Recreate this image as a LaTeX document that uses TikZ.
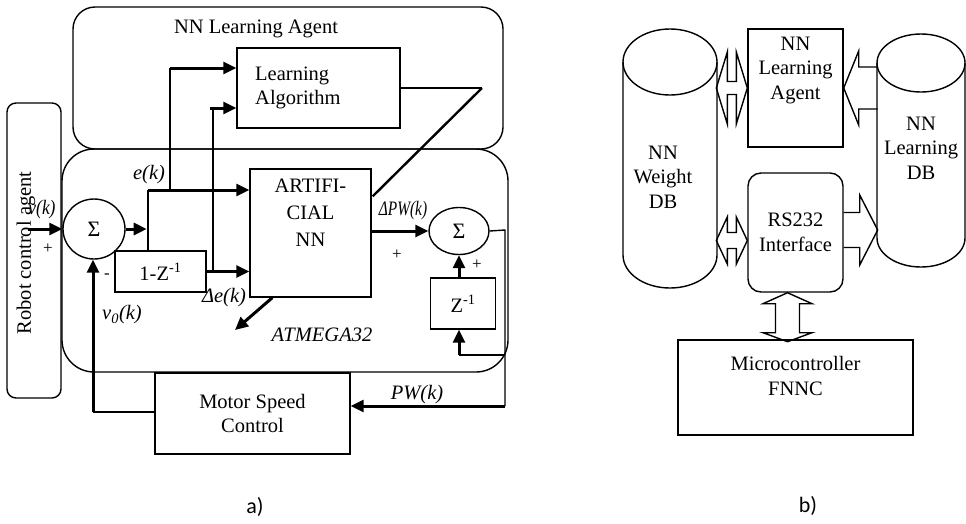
\documentclass[tikz,border=0pt]{standalone}
\usepackage{fontspec}
\setmainfont{Liberation Serif}
\newfontfamily\capfont{Carlito}
\usetikzlibrary{arrows.meta,calc,shapes.geometric}
\begin{document}
\begin{tikzpicture}[x=1pt,y=-1pt,
  every node/.style={font=\fontsize{20.5}{24.5}\selectfont, inner sep=0pt},
  box/.style={draw, line width=1.4pt, align=center},
  txt/.style={align=center},
  lbl/.style={font=\fontsize{20.5}{24.5}\selectfont\itshape},
  sgn/.style={font=\fontsize{17}{20}\selectfont},
  sumnode/.style={draw, line width=1.4pt, ellipse, font=\fontsize{22}{26}\selectfont},
  thinw/.style={line width=1.4pt},
  thickarr/.style={line width=3pt, -{Triangle[length=13pt,width=12pt]}},
  blk/.style={line width=1.4pt, line join=miter},
]
\useasboundingbox (0,0) rectangle (966,523);

% ---------------- a) control loop ----------------
% agent frames
\node[box, rounded corners=22pt, minimum width=430pt, minimum height=142pt] (lag) at (288,78) {};
\node[box, rounded corners=32pt, minimum width=446pt, minimum height=223pt] (atm) at (285,260.5) {};
\node[box, rounded corners=9pt, minimum width=54pt, minimum height=295pt] (rca) at (34,250.5) {};
\node[txt, rotate=90] (rcat) at (26,253) {Robot control agent};
\node[txt] (lagt) at (256,29) {NN Learning Agent};

% blocks
\node[sumnode, minimum width=62pt, minimum height=60pt] (s1) at (94,229) {Σ};
\node[box, minimum width=91pt, minimum height=41pt] (z1) at (160.5,271.5) {1-Z\textsuperscript{-1}};
\node[box, minimum width=121pt, minimum height=128pt] (ann) at (310.5,233) {};
\node[txt, font=\fontsize{20.5}{27}\selectfont] (annt) at (310.5,213) {ARTIFI-\\CIAL\\NN};
\node[box, minimum width=163pt, minimum height=80pt] (la) at (318.5,88) {};
\node[align=left, anchor=west] (lat) at (255,88) {Learning\\Algorithm};
\node[sumnode, minimum width=60pt, minimum height=47pt] (s2) at (459,231) {Σ};
\node[box, minimum width=65pt, minimum height=51pt] (z2) at (463,303.5) {Z\textsuperscript{-1}};
\node[box, minimum width=195pt, minimum height=81pt] (msc) at (252.5,413.5) {Motor Speed\\Control};

% wiring
\coordinate (vin) at (28,229);
\draw[thickarr] (vin) -- (s1.west);
\draw[thickarr] (s1.east) -- ++(21,0) coordinate (so);

\coordinate (ej) at (148,190);
\draw[thinw] (z1.north -| ej) -- (ej);
\draw[thickarr] (ej) -- (ann.west |- ej);
\coordinate (eb) at (170,190);
\coordinate (et) at (170,68);
\draw[thinw] (eb) -- (et);
\draw[thickarr] (et) -- (la.west |- et);

\draw[thickarr] (z1.east) -- (ann.west |- z1.east);
\coordinate (db) at (213,271.5);
\coordinate (dt) at (213,108);
\draw[thinw] (db) -- (dt);
\draw[thickarr] ($(dt)+(-3,0)$) -- (la.west |- dt);

\coordinate (fb) at (93,412);
\draw[thinw] (msc.west |- fb) -- (fb);
\draw[thickarr] (fb) -- (s1.south -| fb);

\draw[thickarr] (ann.east |- s2.west) -- (s2.west);
\coordinate (lr) at (482,88);
\draw[thinw] (la.east) -- (lr);
\draw[line width=2.4pt] (lr) -- ($(ann.north east)+(1,28)$);

\coordinate (pc) at (505,230);
\coordinate (pb) at (505,406);
\draw[thinw] (s2.east) -- (pc) -- (pb);
\draw[thickarr] (pb) -- (msc.east |- pb);
\coordinate (zl) at (459,355);
\draw[thinw] (pb |- zl) -- (zl);
\draw[thickarr] (zl) -- (z2.south -| zl);
\draw[thickarr] (z2.north -| s2.south) -- (s2.south);

\draw[thickarr] ($(ann.south west)+(23,0)$) -- (235,330);

% signal labels
\node[lbl, xscale=0.85] (lv) at (42,210) {v(k)};
\node[sgn] (lp1) at (48,249) {+};
\node[lbl] (le) at (149,175) {e(k)};
\node[sgn] (lm) at (107,276) {-};
\node[lbl] (lde) at (224,298) {Δe(k)};
\node[lbl] (lv0) at (122,315) {v\textsubscript{0}(k)};
\node[lbl] (latm) at (322,335) {ATMEGA32};
\node[lbl, xscale=0.75] (ldpw) at (403,211) {ΔPW(k)};
\node[sgn] (lp2) at (397,255) {+};
\node[sgn] (lp3) at (477,265) {+};
\node[lbl] (lpw) at (417,395) {PW(k)};
\node[font=\capfont\fontsize{22}{26}\selectfont] (capa) at (255,507) {a)};

% ---------------- b) system structure ----------------
% NN weight data base
\draw[thinw] (623,62) -- (623,255) arc[start angle=180, end angle=0, x radius=47, y radius=33] -- (717,62);
\draw[thinw] (670,62) ellipse[x radius=47, y radius=33];
\node[txt] (wdbt) at (663,177) {NN\\Weight\\DB};
% NN learning data base
\draw[thinw] (877,63) -- (877,238) arc[start angle=180, end angle=0, x radius=44, y radius=29] -- (965,63);
\draw[thinw] (921,63) ellipse[x radius=44, y radius=29];
\node[txt] (ldbt) at (921,148) {NN\\Learning\\DB};

\node[box, minimum width=95pt, minimum height=118pt] (lagb) at (795.5,88) {};
\node[txt] (lagbt) at (795.5,70) {NN\\Learning\\Agent};
\node[box, rounded corners=13pt, minimum width=95pt, minimum height=119pt] (rs) at (795.5,232.5) {RS232\\Interface};
\node[box, minimum width=235pt, minimum height=95pt] (mc) at (795.5,387.5) {};
\node[txt] (mct) at (795.5,376) {Microcontroller\\FNNC};

% block arrows
\draw[blk, shift={(lagb.west)}] (-31,0) -- (-20,-36) -- (-20,-6.5) -- (-11,-6.5) -- (-11,-36) -- (0,0)
  -- (-11,36) -- (-11,6.5) -- (-20,6.5) -- (-20,36) -- cycle;
\draw[blk, shift={($(rs.west)+(0,8)$)}] (-31,0) -- (-20,-23.5) -- (-20,-8) -- (-11,-8) -- (-11,-23.5) -- (0,0)
  -- (-11,23.5) -- (-11,8) -- (-20,8) -- (-20,23.5) -- cycle;
\draw[blk, shift={(lagb.east)}] (34,-21) -- (15,-21) -- (15,-37) -- (0,0) -- (15,37) -- (15,21) -- (34,21);
\draw[blk, shift={($(rs.east)+(0,-2.5)$)}] (0,-17.5) -- (16,-17.5) -- (16,-35) -- (34,0) -- (16,35) -- (16,17.5) -- (0,17.5);
\draw[blk, shift={($(rs.south)+(-8,0)$)}] (0,0) -- (24.5,11) -- (12,11) -- (12,40) -- (24.5,40) -- (0,49)
  -- (-24.5,40) -- (-12,40) -- (-12,11) -- (-24.5,11) -- cycle;

\node[font=\capfont\fontsize{22}{26}\selectfont] (capb) at (808,506) {b)};
\end{tikzpicture}
\end{document}
